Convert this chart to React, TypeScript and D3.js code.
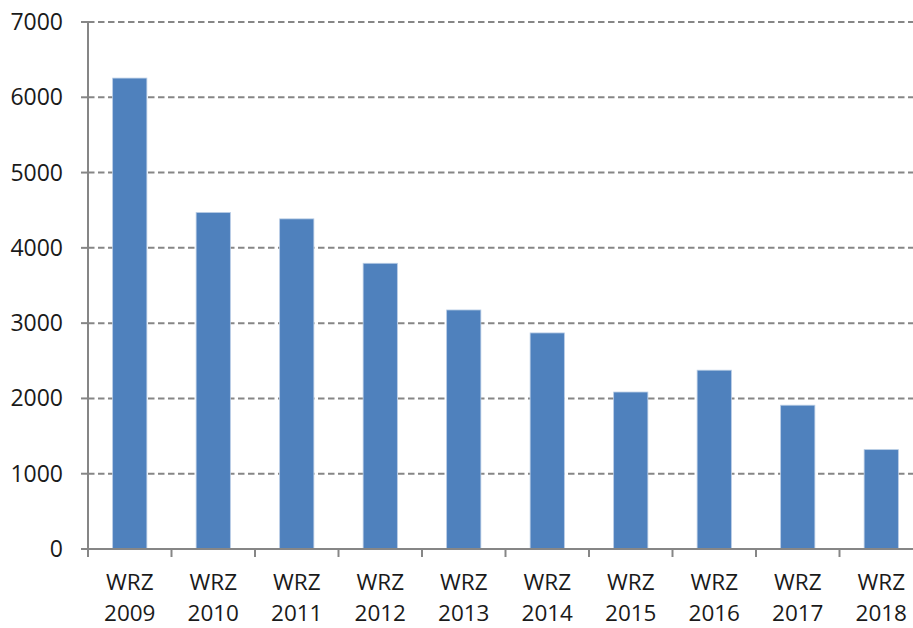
import React from "react";
import * as d3 from "d3";

const categories = ["2009", "2010", "2011", "2012", "2013", "2014", "2015", "2016", "2017", "2018"];
const values = [6255, 4470, 4385, 3795, 3175, 2870, 2085, 2375, 1910, 1320];
const yTicks = [0, 1000, 2000, 3000, 4000, 5000, 6000, 7000];
const labelPrefix = "WRZ";

const W = 913;
const H = 628;
const left = 88;
const right = 923;
const top = 22;
const bottom = 549;

export default function App() {
  const x = d3.scaleBand<string>().domain(categories).range([left, right]).paddingInner(0.59).paddingOuter(0.295);
  const xOuter = d3.scaleBand<string>().domain(categories).range([left, right]);
  const y = d3.scaleLinear().domain([0, 7000]).range([bottom, top]);
  const grid = "#868686";
  const font = "'Open Sans', 'Liberation Sans', sans-serif";
  return (
    <svg width={W} height={H} style={{ position: "absolute", left: 0, top: 0, background: "#fff" }}>
      {yTicks.filter((t) => t > 0).map((t) => (
        <line key={"g" + t} x1={left} x2={W} y1={y(t)} y2={y(t)} stroke={grid} strokeWidth={2} strokeDasharray="6.5,3.5" />
      ))}
      {categories.map((c, i) => (
        <rect
          key={c}
          x={x(c)!}
          y={y(values[i])}
          width={x.bandwidth()}
          height={bottom - y(values[i])}
          fill="#4F81BD"
          stroke="#b9cde5"
          strokeWidth={0.8}
        />
      ))}
      <line x1={left} x2={left} y1={top} y2={bottom} stroke={grid} strokeWidth={2} />
      <line x1={left - 7} x2={W} y1={bottom} y2={bottom} stroke={grid} strokeWidth={2} />
      {yTicks.map((t) => (
        <g key={"t" + t}>
          <line x1={left - 7} x2={left} y1={y(t)} y2={y(t)} stroke={grid} strokeWidth={2} />
          <text x={63} y={y(t)} dy="0.35em" textAnchor="end" fontFamily={font} fontSize={23} fill="#1a1a1a">
            {t}
          </text>
        </g>
      ))}
      {categories.map((c) => (
        <line key={"xt" + c} x1={xOuter(c)!} x2={xOuter(c)!} y1={bottom} y2={bottom + 8} stroke={grid} strokeWidth={2} />
      ))}
      {categories.map((c) => {
        const cx = xOuter(c)! + xOuter.bandwidth() / 2;
        return (
          <text key={"xl" + c} x={cx} textAnchor="middle" fontFamily={font} fontSize={22.5} fill="#1a1a1a">
            <tspan x={cx} y={590}>{labelPrefix}</tspan>
            <tspan x={cx} y={621}>{c}</tspan>
          </text>
        );
      })}
    </svg>
  );
}
